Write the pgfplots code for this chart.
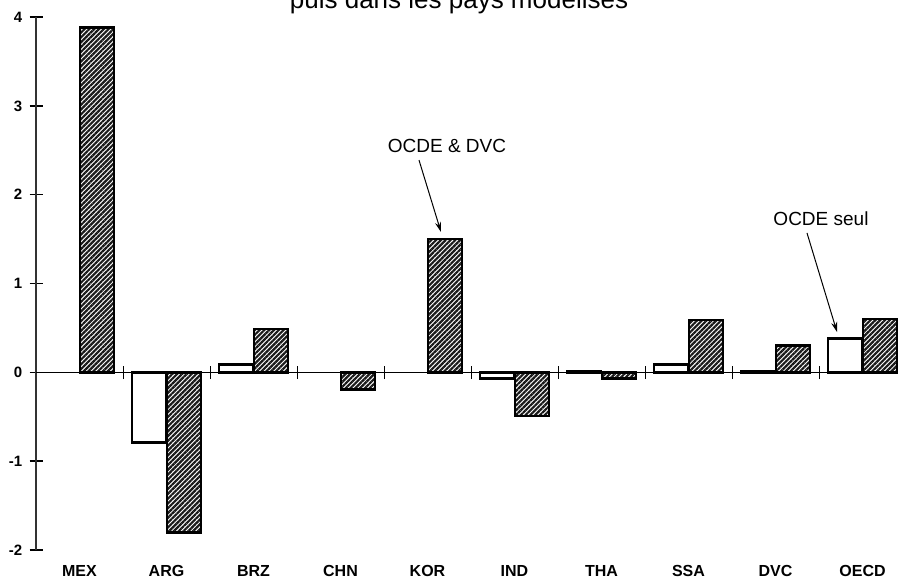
\documentclass[border=0pt]{standalone}
\usepackage{fontspec}
\setmainfont{Liberation Sans}
\usepackage{pgfplots}
\pgfplotsset{compat=1.18}
\usetikzlibrary{patterns.meta,arrows.meta}
\begin{document}
\begin{tikzpicture}
\begin{axis}[
  at={(18pt,15pt)}, anchor=south west,
  scale only axis, width=435pt, height=266.5pt,
  xmin=-0.5, xmax=9.5, ymin=-2, ymax=4,
  axis x line*=bottom, axis y line*=left,
  x axis line style={draw=none},
  y axis line style={line width=0.7pt, black!80},
  xtick={0,...,9},
  xticklabels={MEX,ARG,BRZ,CHN,KOR,IND,THA,SSA,DVC,OECD},
  x tick style={draw=none},
  xticklabel style={font=\fontsize{8}{9}\selectfont\bfseries, anchor=base, yshift=-6.8pt},
  ytick={-2,-1,0,1,2,3,4},
  yticklabels={-2,-1,0,1,2,3,4},
  yticklabel style={font=\fontsize{7.5}{8}\selectfont\bfseries, anchor=east, inner sep=0pt, xshift=-3.5pt},
  y tick style={line width=0.7pt, black},
  tick align=center, major tick length=6.5pt,
  ybar, bar width=0.39,
  clip=false,
]
\draw[line width=0.7pt] (axis cs:-0.5,0) -- (axis cs:9.5,0);
\pgfplotsinvokeforeach{0.5,1.5,2.5,3.5,4.5,5.5,6.5,7.5,8.5}{
  \draw[line width=0.5pt] (axis cs:#1,-0.075) -- (axis cs:#1,0.075);
}
\addplot[draw=black, line width=1.3pt, fill=white, bar shift=-0.2]
  coordinates {(1,-0.79) (2,0.085) (5,-0.07) (6,0.01) (7,0.09) (8,0.01) (9,0.38)};
\addplot[draw=black, line width=1.3pt, pattern={Lines[angle=45,distance=1.7pt,line width=1.1pt]}, pattern color=black!90, bar shift=0.2]
  coordinates {(0,3.88) (1,-1.80) (2,0.49) (3,-0.19) (4,1.50) (5,-0.49) (6,-0.07) (7,0.59) (8,0.30) (9,0.60)};
\node[font=\fontsize{9.5}{11}\selectfont] at (axis cs:4.224,2.548) {OCDE \& DVC};
\draw[line width=0.5pt, -{Stealth[length=5pt,width=3pt]}] (axis cs:3.902,2.390) -- (axis cs:4.155,1.580);
\node[font=\fontsize{9.5}{11}\selectfont] at (axis cs:8.523,1.726) {OCDE seul};
\draw[line width=0.5pt, -{Stealth[length=5pt,width=3pt]}] (axis cs:8.362,1.569) -- (axis cs:8.707,0.454);
\end{axis}
\node[anchor=base, font=\fontsize{13}{15}\selectfont] at (229.5pt,285.5pt) {puis dans les pays modélisés};
\pgfresetboundingbox
\useasboundingbox (0,0) rectangle (449pt,290pt);
\end{tikzpicture}
\end{document}
